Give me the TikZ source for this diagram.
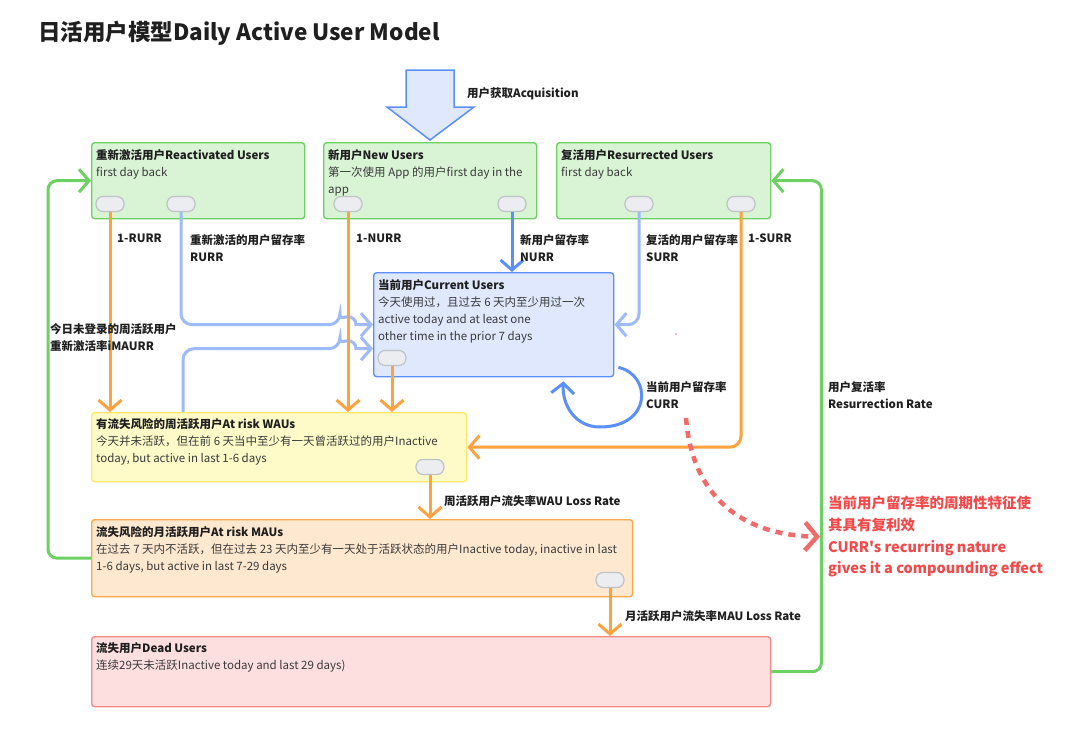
\documentclass[tikz,border=0pt]{standalone}
\usepackage{fontspec}
\setmainfont{Noto Sans CJK SC}
\setmonofont{Noto Sans CJK SC}
\usetikzlibrary{arrows.meta,calc}
\definecolor{gborder}{HTML}{6CD162}
\definecolor{gfill}{HTML}{D9F3D5}
\definecolor{bborder}{HTML}{5B8FF9}
\definecolor{bfill}{HTML}{DFE8FD}
\definecolor{lblue}{HTML}{9DBAFA}
\definecolor{oline}{HTML}{FCA23F}
\definecolor{yfill}{HTML}{FFFBC8}
\definecolor{yborder}{HTML}{FFE86A}
\definecolor{ofill}{HTML}{FEE8CF}
\definecolor{oborder}{HTML}{F9A84A}
\definecolor{rfill}{HTML}{FDDFDF}
\definecolor{rborder}{HTML}{F28B86}
\definecolor{redtxt}{HTML}{F2494A}
\definecolor{redline}{HTML}{F26B6B}
\definecolor{togf}{HTML}{EBEDF0}
\definecolor{togb}{HTML}{BFC2C7}
\definecolor{txt}{HTML}{1F1F1F}
\definecolor{txtb}{HTML}{3A3A3A}
\tikzset{
  box/.style={draw, rounded corners=3pt, line width=1.4pt, inner sep=0, anchor=north west},
  greenbox/.style={box, draw=gborder, fill=gfill},
  tog/.style={draw=togb, fill=togf, line width=1.2pt, rounded corners=7pt, minimum width=28pt, minimum height=15pt, inner sep=0},
  ttl/.style={anchor=west, inner sep=0, font=\fontsize{11.5}{17}\selectfont\bfseries, text=txt},
  body/.style={anchor=north west, inner sep=0, align=left, font=\fontsize{11.5}{17}\selectfont, text=txtb},
  lbl/.style={anchor=north west, inner sep=0, align=left, font=\fontsize{11.5}{17}\selectfont\bfseries, text=txt},
  tipo/.style={-{Straight Barb[length=10pt,width=23pt]}},
  oarrow/.style={draw=oline, line width=3pt, tipo},
  lbarrow/.style={draw=lblue, line width=3pt, tipo},
  barrow/.style={draw=bborder, line width=3pt, tipo},
  garrow/.style={draw=gborder, line width=3pt, tipo, rounded corners=9pt},
}
\begin{document}
\begin{tikzpicture}[x=1pt,y=-1pt]
\useasboundingbox[fill=white] (0,0) rectangle (1080,736);

% title
\node[anchor=west, inner sep=0, font=\fontsize{22.5}{26}\selectfont\bfseries, text=txt] (title) at (38,33) {日活用户模型Daily Active User Model};

% acquisition arrow
\draw[draw=bborder, fill=bfill, line width=1.5pt, line join=miter]
  (406,70) -- (454,70) -- (454,107) -- (474,107) -- (430,140) -- (387,107) -- (406,107) -- cycle;
\node[lbl, anchor=west] (acq) at (467,94) {用户获取Acquisition};

% boxes
\node[greenbox, minimum width=213pt, minimum height=76pt] (reac) at (91,142) {};
\node[greenbox, minimum width=213pt, minimum height=76pt] (new) at (323,142) {};
\node[greenbox, minimum width=214pt, minimum height=76pt] (res) at (556,142) {};
\node[box, draw=bborder, fill=bfill, minimum width=240pt, minimum height=104pt] (cur) at (373,272) {};
\node[box, draw=yborder, fill=yfill, minimum width=375pt, minimum height=69pt] (wau) at (91,412) {};
\node[box, draw=oborder, fill=ofill, minimum width=541pt, minimum height=77pt] (mau) at (91,519) {};
\node[box, draw=rborder, fill=rfill, minimum width=679pt, minimum height=70pt] (dead) at (91,636) {};

% texts
\node[ttl] (reacT) at (96,155) {重新激活用户Reactivated Users};
\node[body] (reacB) at (96,167) {first day back};
\node[ttl] (newT) at (328,155) {新用户New Users};
\node[body] (newB) at (328,167) {第一次使用 App 的用户first day in the\\app};
\node[ttl] (resT) at (561,155) {复活用户Resurrected Users};
\node[body] (resB) at (561,167) {first day back};
\node[ttl] (curT) at (378,285) {当前用户Current Users};
\node[body] (curB) at (378,296.5) {今天使用过，且过去 6 天内至少用过一次\\active today and at least one\\other time in the prior 7 days};
\node[ttl] (wauT) at (96,424) {有流失风险的周活跃用户At risk WAUs};
\node[body] (wauB) at (96,436) {今天并未活跃，但在前 6 天当中至少有一天曾活跃过的用户Inactive\\today, but active in last 1-6 days};
\node[ttl] (mauT) at (96,532) {流失风险的月活跃用户At risk MAUs};
\node[body] (mauB) at (96,544) {在过去 7 天内不活跃，但在过去 23 天内至少有一天处于活跃状态的用户Inactive today, inactive in last\\1-6 days, but active in last 7-29 days};
\node[ttl] (deadT) at (96,648) {流失用户Dead Users};
\node[body] (deadB) at (96,660) {连续29天未活跃Inactive today and last 29 days)};

% toggles
\node[tog] (reacA) at (110,204) {};
\node[tog] (reacC) at (181,204) {};
\node[tog] (newA) at (348,204) {};
\node[tog] (newC) at (512,204) {};
\node[tog] (resA) at (639,204) {};
\node[tog] (resC) at (741,204) {};
\node[tog] (curG) at (392,358) {};
\node[tog] (wauG) at (430,467) {};
\node[tog] (mauG) at (610,580) {};

% light-blue connectors with line jumps (drawn under orange)
\draw[lbarrow] (reacC.south) [rounded corners=11pt] |- ([xshift=-33pt]cur.west) [sharp corners] arc[start angle=180, end angle=0, radius=8pt] -- (cur.west);
\draw[lbarrow] ([xshift=92pt]wau.north west) [rounded corners=11pt] |- ([shift={(-33pt,-24pt)}]cur.west) [sharp corners] arc[start angle=180, end angle=0, radius=8pt] -- ([yshift=-24pt]cur.west);
\draw[lbarrow, rounded corners=11pt] (resA.south) |- (cur.east);

% orange connectors
\draw[oarrow] (reacA.south) -- (reacA.south |- wau.north);
\draw[oarrow] (newA.south) -- (newA.south |- wau.north);
\draw[oarrow] (curG.south) -- (curG.south |- wau.north);
\draw[oarrow, rounded corners=11pt] (resC.south) |- (wau.east);
\draw[oarrow] (wauG.south) -- (wauG.south |- mau.north);
\draw[oarrow] (mauG.south) -- (mauG.south |- dead.north);

% blue connectors
\draw[barrow] (newC.south) -- (newC.south |- cur.north);
\draw[barrow] ([shift={(4pt,10pt)}]cur.south east) .. controls (652,375) and (652,427) .. (600,427) .. controls (575,427) and (562,405) .. ([shift={(-51pt,-4pt)}]cur.south east);

% green connectors
\draw[garrow] (mau.west) -- ++(-43pt,0) |- (reac.west);
\draw[garrow] (dead.east) -- ++(50pt,0) |- (res.east);

% labels
\node[lbl] (l1) at (117,234) {1-RURR};
\node[lbl] (l2) at (190,234) {重新激活的用户留存率\\RURR};
\node[lbl] (l3) at (356,234) {1-NURR};
\node[lbl] (l4) at (520,234) {新用户留存率\\NURR};
\node[lbl] (l5) at (646,234) {复活的用户留存率\\SURR};
\node[lbl] (l6) at (748,234) {1-SURR};
\node[lbl] (l7) at (50,323) {今日未登录的周活跃用户\\重新激活率iMAURR};
\node[lbl] (l8) at (646,381) {当前用户留存率\\CURR};
\node[lbl] (l9) at (828,381) {用户复活率\\Resurrection Rate};
\node[lbl, anchor=west] (l10) at (444,501) {周活跃用户流失率WAU Loss Rate};
\node[lbl, anchor=west] (l11) at (625,616) {月活跃用户流失率MAU Loss Rate};

% red note
\node[anchor=north west, inner sep=0, align=left, font=\ttfamily\fontsize{14.5}{21.7}\selectfont\bfseries, text=redtxt] (note) at (828,496) {当前用户留存率的周期性特征使\\其具有复利效\\CURR's recurring nature\\gives it a compounding effect};
\coordinate (rs) at (686,418);
\draw[draw=redline, line width=4.5pt, dash pattern=on 7pt off 6pt, -{Straight Barb[length=12pt,width=28pt]}] (rs) .. controls (692,495) and (740,535) .. ([xshift=-8pt]note.west);
\fill[redline] (676,334) circle (0.9pt);
\end{tikzpicture}
\end{document}
